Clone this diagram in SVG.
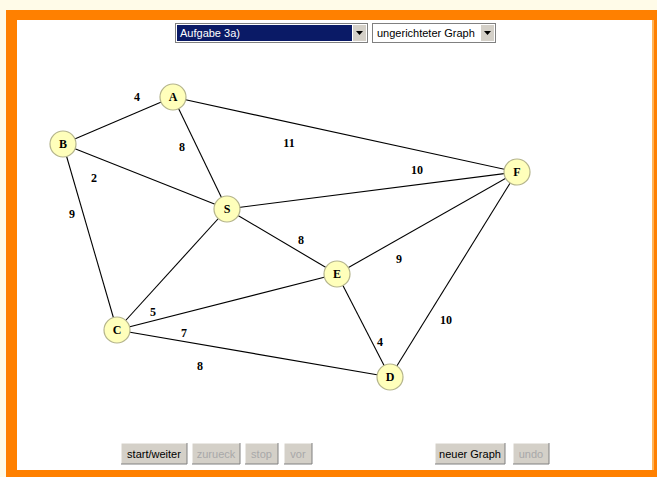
<svg xmlns="http://www.w3.org/2000/svg" width="657" height="477" viewBox="0 0 657 477">
<style>
.edge{stroke:#000;stroke-width:1.1;fill:none}
.node circle{fill:#ffffbb;stroke:#b4b48c;stroke-width:1.2}
.node text{font-family:"Liberation Serif",serif;font-weight:bold;font-size:12px;text-anchor:middle;fill:#000}
.w{font-family:"Liberation Serif",serif;font-weight:bold;font-size:12px;text-anchor:middle;fill:#000}
.btn rect.face{fill:#d4d0c8}
.btn text{font-family:"Liberation Sans",sans-serif;font-size:11px;text-anchor:middle;fill:#000}
.btn.dis text{fill:#a8a8a8}
.ui{font-family:"Liberation Sans",sans-serif;font-size:11px}
</style>
<rect x="0" y="0" width="657" height="477" fill="#fffbe8"/>
<rect x="6" y="10" width="651" height="467" fill="#ff8000"/>
<rect x="17" y="20" width="635" height="450" fill="#ffffff"/>
<line x1="653" y1="20" x2="653" y2="470" stroke="#ffe8b0" stroke-width="1"/>

<!-- dropdowns -->
<g id="select1">
<rect x="175.5" y="23.5" width="192" height="19" fill="#fff" stroke="#808080"/>
<rect x="177" y="25" width="175" height="16" fill="#0a1a66"/>
<text x="180" y="37" class="ui" fill="#fff">Aufgabe 3a)</text>
<rect x="353" y="25" width="13" height="16" fill="#d4d0c8"/>
<path d="M356 31 h7 l-3.5 4 z" fill="#000"/>
</g>
<g id="select2">
<rect x="372.5" y="23.5" width="123" height="19" fill="#fff" stroke="#808080"/>
<text x="377" y="37" class="ui" fill="#000">ungerichteter Graph</text>
<rect x="481" y="25" width="13" height="16" fill="#d4d0c8"/>
<path d="M484 31 h7 l-3.5 4 z" fill="#000"/>
</g>

<g id="edges">
<line class="edge" x1="173" y1="97" x2="63" y2="144"/>
<line class="edge" x1="173" y1="97" x2="227" y2="209"/>
<line class="edge" x1="173" y1="97" x2="517" y2="172"/>
<line class="edge" x1="63" y1="144" x2="227" y2="209"/>
<line class="edge" x1="63" y1="144" x2="117" y2="330"/>
<line class="edge" x1="227" y1="209" x2="517" y2="172"/>
<line class="edge" x1="227" y1="209" x2="337" y2="274"/>
<line class="edge" x1="227" y1="209" x2="117" y2="330"/>
<line class="edge" x1="117" y1="330" x2="337" y2="274"/>
<line class="edge" x1="117" y1="330" x2="390" y2="377"/>
<line class="edge" x1="337" y1="274" x2="517" y2="172"/>
<line class="edge" x1="337" y1="274" x2="390" y2="377"/>
<line class="edge" x1="390" y1="377" x2="517" y2="172"/>
<text class="w" x="137" y="101">4</text>
<text class="w" x="182" y="151">8</text>
<text class="w" x="289" y="147">11</text>
<text class="w" x="94" y="182">2</text>
<text class="w" x="72" y="218">9</text>
<text class="w" x="417" y="174">10</text>
<text class="w" x="301" y="244">8</text>
<text class="w" x="399" y="263">9</text>
<text class="w" x="153" y="316">5</text>
<text class="w" x="184" y="337">7</text>
<text class="w" x="200" y="370">8</text>
<text class="w" x="380" y="346">4</text>
<text class="w" x="446" y="324">10</text>
</g>

<g id="A" class="node"><circle cx="173" cy="97" r="13"/><text x="173" y="101">A</text></g>
<g id="B" class="node"><circle cx="63" cy="144" r="13"/><text x="63" y="148">B</text></g>
<g id="S" class="node"><circle cx="227" cy="209" r="13"/><text x="227" y="213">S</text></g>
<g id="F" class="node"><circle cx="517" cy="172" r="13"/><text x="517" y="176">F</text></g>
<g id="E" class="node"><circle cx="337" cy="274" r="13"/><text x="337" y="278">E</text></g>
<g id="C" class="node"><circle cx="117" cy="330" r="13"/><text x="117" y="334">C</text></g>
<g id="D" class="node"><circle cx="390" cy="377" r="13"/><text x="390" y="381">D</text></g>

<!-- buttons -->
<g id="btn-start" class="btn">
<rect class="face" x="121" y="443" width="66" height="21"/>
<path d="M121 464 V443 H187" stroke="#fff" fill="none"/><path d="M121 464 H187 V443" stroke="#808080" fill="none"/>
<text x="154" y="458">start/weiter</text></g>
<g id="btn-zurueck" class="btn dis">
<rect class="face" x="192" y="443" width="48" height="21"/>
<path d="M192 464 V443 H240" stroke="#fff" fill="none"/><path d="M192 464 H240 V443" stroke="#808080" fill="none"/>
<text x="216" y="458">zurueck</text></g>
<g id="btn-stop" class="btn dis">
<rect class="face" x="245" y="443" width="33" height="21"/>
<path d="M245 464 V443 H278" stroke="#fff" fill="none"/><path d="M245 464 H278 V443" stroke="#808080" fill="none"/>
<text x="261.5" y="458">stop</text></g>
<g id="btn-vor" class="btn dis">
<rect class="face" x="284" y="443" width="28" height="21"/>
<path d="M284 464 V443 H312" stroke="#fff" fill="none"/><path d="M284 464 H312 V443" stroke="#808080" fill="none"/>
<text x="298" y="458">vor</text></g>
<g id="btn-neu" class="btn">
<rect class="face" x="435" y="443" width="70" height="21"/>
<path d="M435 464 V443 H505" stroke="#fff" fill="none"/><path d="M435 464 H505 V443" stroke="#808080" fill="none"/>
<text x="470" y="458">neuer Graph</text></g>
<g id="btn-undo" class="btn dis">
<rect class="face" x="513" y="443" width="36" height="21"/>
<path d="M513 464 V443 H549" stroke="#fff" fill="none"/><path d="M513 464 H549 V443" stroke="#808080" fill="none"/>
<text x="531" y="458">undo</text></g>
</svg>
